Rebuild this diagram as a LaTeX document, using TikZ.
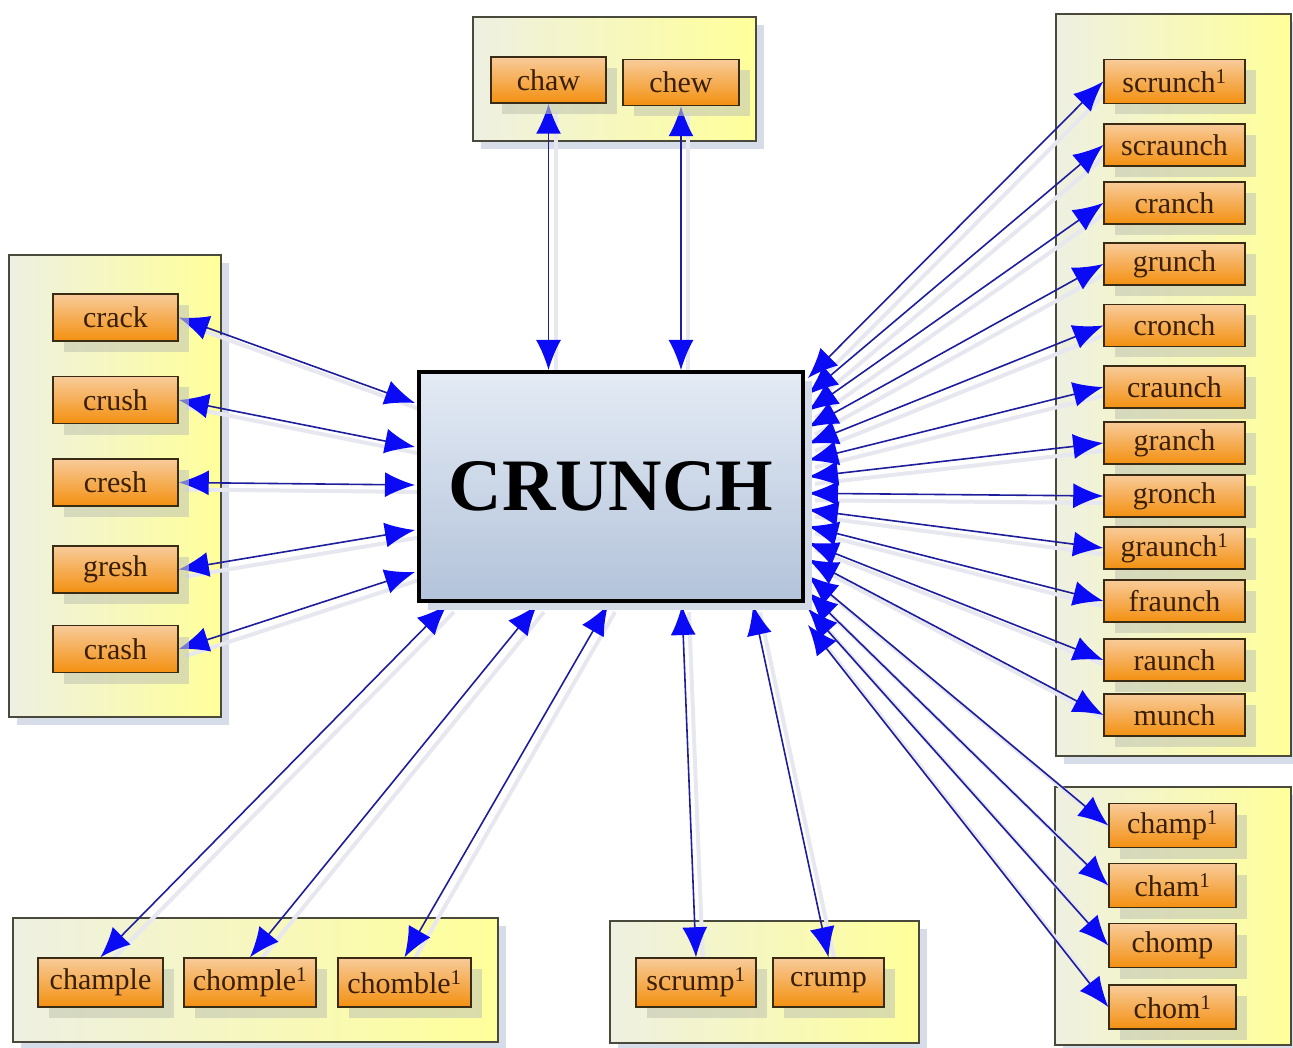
\documentclass[tikz,border=0pt]{standalone}
\usepackage{fontspec}
\setmainfont{Liberation Serif}
\usetikzlibrary{arrows.meta,shadows,calc}
\definecolor{grpL}{HTML}{EEF0E2}
\definecolor{grpR}{HTML}{FFFF9A}
\definecolor{grpBorder}{HTML}{4A4A3C}
\definecolor{grpShadow}{HTML}{D6DCE8}
\definecolor{leafT}{HTML}{F8CB9A}
\definecolor{leafM}{HTML}{F6A334}
\definecolor{leafB}{HTML}{F39010}
\definecolor{leafBorder}{HTML}{3A2C14}
\definecolor{leafText}{HTML}{3A1E00}
\definecolor{leafShadow}{HTML}{C4C8B2}
\definecolor{ctrT}{HTML}{E4EBF5}
\definecolor{ctrB}{HTML}{B3C3DA}
\definecolor{ctrShadow}{HTML}{D2DAE8}
\definecolor{linkBlue}{HTML}{1E1E9C}
\definecolor{tipBlue}{HTML}{0A0AF5}
\definecolor{linkShadow}{HTML}{E6E7EF}
\pgfdeclarelayer{bg}
\pgfdeclarelayer{links}
\pgfsetlayers{bg,links,main}
\begin{document}
\begin{tikzpicture}[x=1pt,y=-1pt,
  group/.style={draw=grpBorder, line width=1.5pt, left color=grpL, right color=grpR,
    inner sep=0pt, drop shadow={shadow xshift=8pt, shadow yshift=-8pt, fill=grpShadow, opacity=1}},
  leaf/.style={draw=leafBorder, line width=1.5pt, top color=leafT, middle color=leafM, bottom color=leafB,
    text=leafText, inner sep=0pt, minimum height=42pt,
    font=\fontsize{30}{32}\selectfont,
    drop shadow={shadow xshift=11pt, shadow yshift=-11pt, fill=leafShadow, opacity=0.6}},
  center/.style={draw=black, line width=4pt, top color=ctrT, bottom color=ctrB,
    inner sep=0pt, minimum width=384pt, minimum height=229pt,
    font=\fontsize{74}{80}\selectfont\bfseries,
    drop shadow={shadow xshift=9pt, shadow yshift=-9pt, fill=ctrShadow, opacity=1}},
  tip/.tip={Latex[length=30pt,width=25pt,color=tipBlue]},
  conn/.style={draw=linkBlue, line width=1.6pt, tip-tip,
    preaction={draw=linkShadow, line width=4pt, -, transform canvas={shift={(7pt,-7pt)}}}}
]
\useasboundingbox (0,0) rectangle (1293,1048);

% group boxes
\begin{pgfonlayer}{bg}
\node[group, minimum width=283pt, minimum height=124pt] (gTop) at (614.5,79) {};
\node[group, minimum width=212pt, minimum height=462pt] (gLeft) at (115,486) {};
\node[group, minimum width=235pt, minimum height=742pt] (gRightA) at (1173.5,385) {};
\node[group, minimum width=236pt, minimum height=258pt] (gRightB) at (1173,916) {};
\node[group, minimum width=485pt, minimum height=124pt] (gBotL) at (255.5,980) {};
\node[group, minimum width=309pt, minimum height=122pt] (gBotM) at (764.5,982) {};
\end{pgfonlayer}

% center
\node[center] (C) at (611,486.5) {CRUNCH};

% top
\node[leaf, minimum width=115pt, minimum height=46pt] (chaw) at (548.5,80) {chaw};
\node[leaf, minimum width=116pt, minimum height=46pt] (chew) at (681,82.5) {chew};

% left
\foreach \n/\y in {crack/317.5, crush/400, cresh/482.5, gresh/569.5, crash/649}
  \node[leaf, minimum width=125pt, minimum height=47pt] (\n) at (115.5,\y) {\n};

% right top
\node[leaf, minimum width=141pt, minimum height=44pt] (scrunch) at (1174.5,81.5) {scrunch\textsuperscript{1}};
\node[leaf, minimum width=141pt] (scraunch) at (1174.5,145) {scraunch};
\node[leaf, minimum width=141pt] (cranch) at (1174.5,203) {cranch};
\node[leaf, minimum width=141pt] (grunch) at (1174.5,264) {grunch};
\node[leaf, minimum width=141pt] (cronch) at (1174.5,325.5) {cronch};
\node[leaf, minimum width=141pt] (craunch) at (1174.5,387) {craunch};
\node[leaf, minimum width=141pt] (granch) at (1174.5,443) {granch};
\node[leaf, minimum width=141pt] (gronch) at (1174.5,496) {gronch};
\node[leaf, minimum width=141pt] (graunch) at (1174.5,548) {graunch\textsuperscript{1}};
\node[leaf, minimum width=141pt] (fraunch) at (1174.5,601) {fraunch};
\node[leaf, minimum width=141pt] (raunch) at (1174.5,660) {raunch};
\node[leaf, minimum width=141pt] (munch) at (1174.5,715) {munch};

% right bottom
\node[leaf, minimum width=127pt, minimum height=44pt] (champ) at (1172.5,825.5) {champ\textsuperscript{1}};
\node[leaf, minimum width=127pt, minimum height=44pt] (cham) at (1172.5,885.5) {cham\textsuperscript{1}};
\node[leaf, minimum width=127pt, minimum height=44pt] (chomp) at (1172.5,945.5) {chomp};
\node[leaf, minimum width=127pt, minimum height=44pt] (chom) at (1172.5,1007) {chom\textsuperscript{1}};

% bottom left
\node[leaf, minimum width=125pt, minimum height=49pt] (chample) at (100.5,982.5) {chample};
\node[leaf, minimum width=132pt, minimum height=49pt] (chomple) at (250,982.5) {chomple\textsuperscript{1}};
\node[leaf, minimum width=133pt, minimum height=49pt] (chomble) at (404.5,982.5) {chomble\textsuperscript{1}};

% bottom middle
\node[leaf, minimum width=120pt, minimum height=49pt] (scrump) at (696,982.5) {scrump\textsuperscript{1}};
\node[leaf, minimum width=111pt, minimum height=49pt] (crump) at (828.5,982.5) {crump};

% attachment points on the center box
\coordinate (tA) at (548.5,370);
\coordinate (tB) at (681,370);
\foreach \n/\y in {crack/403, crush/447, cresh/485, gresh/530, crash/572}
  \coordinate (l\n) at (415,\y);
\foreach \n/\x in {chample/447, chomple/537, chomble/608, scrump/682, crump/753}
  \coordinate (b\n) at (\x,605);
\foreach \n [count=\i from 0] in {scrunch,scraunch,cranch,grunch,cronch,craunch,granch,gronch,graunch,fraunch,raunch,munch,champ,cham,chomp,chom}
  \coordinate (r\n) at (808,{378+\i*16.47});

\begin{pgfonlayer}{links}
\draw[conn] (tA) -- (chaw.south);
\draw[conn] (tB) -- (chew.south);
\foreach \n in {crack,crush,cresh,gresh,crash}
  \draw[conn] (l\n) -- (\n.east);
\foreach \n in {chample,chomple,chomble,scrump,crump}
  \draw[conn] (b\n) -- (\n.north);
\foreach \n in {scrunch,scraunch,cranch,grunch,cronch,craunch,granch,gronch,graunch,fraunch,raunch,munch,champ,cham,chomp,chom}
  \draw[conn] (r\n) -- (\n.west);
\end{pgfonlayer}
\end{tikzpicture}
\end{document}
